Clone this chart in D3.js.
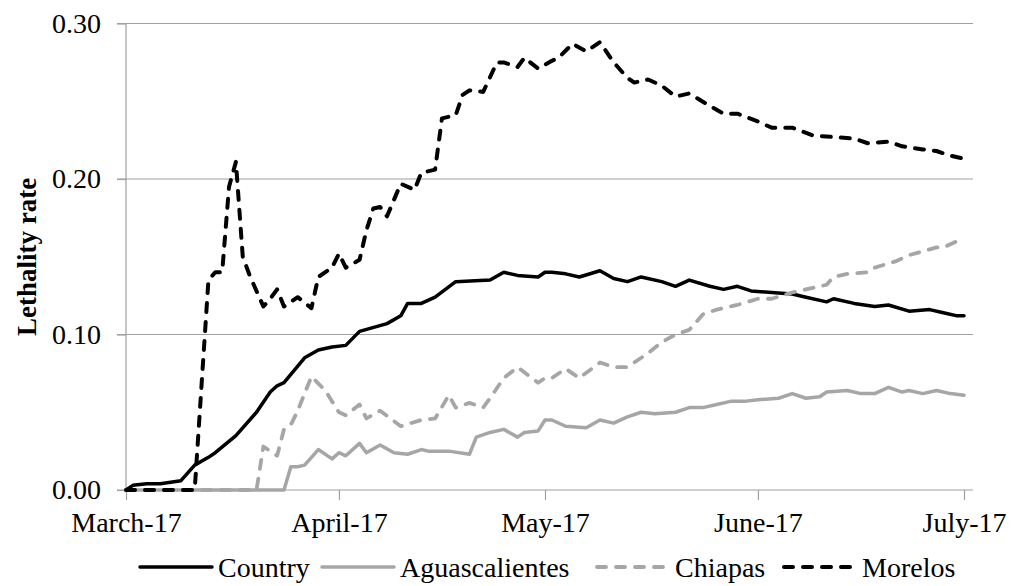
<!DOCTYPE html>
<html>
<head>
<meta charset="utf-8">
<script src="https://cdn.jsdelivr.net/npm/d3@7"></script>
<style>
  body { margin: 0; background: #fff; }
  svg text { font-family: 'Liberation Serif', 'Times New Roman', serif !important; }
</style>
</head>
<body>
<svg id="chart" width="1015" height="586"></svg>
<script>
// day offsets are counted from March 17
const startDate = new Date(Date.UTC(2020, 2, 17));
const tickLabels = ["March-17", "April-17", "May-17", "June-17", "July-17"];
const tickDays = [0, 31, 61, 92, 122];
const yTicks = [0, 0.10, 0.20, 0.30];

const country = [[0,0.000],[1,0.003],[3,0.004],[5,0.004],[8,0.006],[10,0.016],[12,0.021],[13,0.024],
  [16,0.035],[19,0.050],[21,0.063],[22,0.067],[23,0.069],[26,0.085],[28,0.090],[30,0.092],[32,0.093],
  [34,0.102],[38,0.107],[40,0.112],[41,0.120],[43,0.120],[45,0.124],[48,0.134],[53,0.135],[55,0.140],
  [57,0.138],[60,0.137],[61,0.140],[62,0.140],[64,0.139],[66,0.137],[69,0.141],[71,0.136],[73,0.134],
  [75,0.137],[78,0.134],[80,0.131],[82,0.135],[85,0.131],[87,0.129],[89,0.131],[91,0.128],[94,0.127],
  [97,0.126],[99,0.124],[102,0.121],[103,0.123],[106,0.120],[109,0.118],[111,0.119],[114,0.115],
  [117,0.116],[119,0.114],[121,0.112],[122,0.112]];

const aguascalientes = [[0,0],[23,0],[24,0.015],[25,0.015],[26,0.016],[28,0.026],[30,0.020],[31,0.024],
  [32,0.022],[34,0.030],[35,0.024],[37,0.029],[39,0.024],[41,0.023],[43,0.026],[44,0.025],[47,0.025],
  [50,0.023],[51,0.034],[53,0.037],[55,0.039],[57,0.034],[58,0.037],[60,0.038],[61,0.045],[62,0.045],
  [64,0.041],[67,0.040],[69,0.045],[71,0.043],[73,0.047],[75,0.050],[77,0.049],[80,0.050],[82,0.053],
  [84,0.053],[86,0.055],[88,0.057],[90,0.057],[92,0.058],[95,0.059],[97,0.062],[99,0.059],[101,0.060],
  [102,0.063],[105,0.064],[107,0.062],[109,0.062],[111,0.066],[113,0.063],[114,0.064],[116,0.062],
  [118,0.064],[120,0.062],[122,0.061]];

const chiapas = [[0,0],[19,0],[20,0.028],[22,0.022],[23,0.039],[24,0.042],[25,0.051],[27,0.073],
  [29,0.064],[31,0.050],[32,0.048],[34,0.055],[35,0.046],[37,0.051],[40,0.041],[43,0.045],[45,0.046],
  [47,0.061],[48,0.053],[50,0.056],[52,0.053],[53,0.059],[55,0.072],[57,0.079],[60,0.069],[61,0.072],
  [62,0.072],[64,0.078],[66,0.072],[69,0.082],[71,0.079],[73,0.079],[76,0.088],[78,0.095],[80,0.100],
  [82,0.103],[84,0.113],[86,0.116],[89,0.119],[92,0.123],[94,0.123],[97,0.127],[100,0.130],[102,0.132],
  [103,0.137],[105,0.139],[108,0.140],[109,0.143],[112,0.147],[114,0.151],[118,0.156],[119,0.156],
  [121,0.160],[122,0.161]];

const morelos = [[0,0],[10,0],[12,0.135],[13,0.140],[14,0.140],[15,0.195],[16,0.211],[17,0.150],
  [18,0.138],[20,0.118],[21,0.123],[22,0.129],[23,0.118],[25,0.124],[27,0.117],[28,0.137],[30,0.143],
  [31,0.152],[32,0.143],[34,0.148],[35,0.167],[36,0.181],[37,0.182],[38,0.176],[40,0.197],[42,0.193],
  [43,0.204],[45,0.206],[46,0.239],[48,0.241],[49,0.254],[50,0.257],[52,0.256],[54,0.275],[55,0.275],
  [57,0.272],[58,0.278],[60,0.271],[62,0.276],[63,0.278],[65,0.287],[67,0.282],[69,0.288],[71,0.275],
  [73,0.265],[74,0.262],[76,0.264],[78,0.260],[80,0.253],[82,0.255],[85,0.247],[87,0.242],[89,0.242],
  [92,0.237],[94,0.233],[97,0.233],[100,0.228],[103,0.227],[106,0.226],[108,0.223],[111,0.224],
  [113,0.221],[116,0.219],[118,0.218],[120,0.215],[122,0.213]];

const seriesNames = ["Country", "Aguascalientes", "Chiapas", "Morelos"];
const seriesData = [country, aguascalientes, chiapas, morelos];

const styles = [
  {color: "#000", dash: null, width: 3.5},
  {color: "#a6a6a6", dash: null, width: 3.5},
  {color: "#a6a6a6", dash: "9,10", width: 3.8},
  {color: "#000", dash: "9,10", width: 4}
];

const serif = "'Liberation Serif', 'Times New Roman', serif";
const svg = d3.select("#chart");
const day = d => d3.utcDay.offset(startDate, d);

const x = d3.scaleUtc()
  .domain([startDate, day(122)])
  .range([126, 964]);
const y = d3.scaleLinear()
  .domain([0, 0.30])
  .range([490, 23.5]);

// gridlines
svg.append("g")
  .selectAll("line")
  .data(yTicks.slice(1))
  .join("line")
  .attr("x1", 117).attr("x2", 973)
  .attr("y1", d => y(d)).attr("y2", d => y(d))
  .attr("stroke", "#a0a0a0").attr("stroke-width", 1.2);

// y axis
const yAxis = d3.axisLeft(y)
  .tickValues(yTicks)
  .tickFormat(d3.format(".2f"))
  .tickSize(9)
  .tickPadding(16);
const yg = svg.append("g")
  .attr("transform", "translate(126,0)")
  .call(yAxis);
yg.select(".domain").attr("stroke", "#a0a0a0").attr("stroke-width", 1.2).attr("d", "M0,490V23.5");
yg.selectAll(".tick line").attr("stroke", "#a0a0a0").attr("stroke-width", 1.2);
yg.selectAll(".tick text")
  .attr("font-size", 28).attr("fill", "#000")
  .style("font-family", serif);

// x axis
const xAxis = d3.axisBottom(x)
  .tickValues(tickDays.map(day))
  .tickFormat((d, i) => tickLabels[i])
  .tickSize(10)
  .tickPadding(12);
const xg = svg.append("g")
  .attr("transform", "translate(0,490)")
  .call(xAxis);
xg.select(".domain").attr("stroke", "#a0a0a0").attr("stroke-width", 1.2).attr("d", "M117,0H973");
xg.selectAll(".tick line").attr("stroke", "#a0a0a0").attr("stroke-width", 1.2);
xg.selectAll(".tick text")
  .attr("font-size", 28).attr("fill", "#000")
  .style("font-family", serif);

// y label
svg.append("text")
  .attr("transform", "translate(36,257) rotate(-90)")
  .attr("text-anchor", "middle")
  .style("font-family", serif)
  .attr("font-size", 27)
  .attr("font-weight", "bold")
  .text("Lethality rate");

// lines
const line = d3.line()
  .x(d => x(day(d[0])))
  .y(d => y(d[1]));

svg.append("g")
  .selectAll("path")
  .data(seriesData)
  .join("path")
  .attr("d", line)
  .attr("fill", "none")
  .attr("stroke", (d, i) => styles[i].color)
  .attr("stroke-width", (d, i) => styles[i].width)
  .attr("stroke-dasharray", (d, i) => styles[i].dash)
  .attr("stroke-linecap", "round")
  .attr("stroke-linejoin", "round");

// legend
const legendX = [140, 322, 597, 784];
const legend = svg.append("g")
  .attr("class", "legend")
  .style("font-family", serif)
  .selectAll("g")
  .data(seriesNames)
  .join("g")
  .attr("transform", (d, i) => `translate(${legendX[i]},567)`);
legend.append("line")
  .attr("x1", 0).attr("x2", 72)
  .attr("stroke", (d, i) => styles[i].color)
  .attr("stroke-width", (d, i) => styles[i].width)
  .attr("stroke-dasharray", (d, i) => styles[i].dash)
  .attr("stroke-linecap", "round");
legend.append("text")
  .attr("x", 78)
  .attr("y", 10)
  .style("font-family", serif)
  .style("font-size", "28px")
  .text(d => d);
</script>
</body>
</html>
